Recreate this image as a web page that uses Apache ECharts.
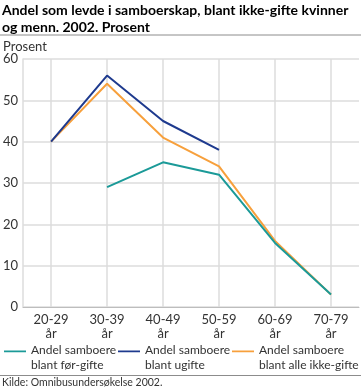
<!DOCTYPE html>
<html><head><meta charset="utf-8">
<script src="https://cdn.jsdelivr.net/npm/echarts@6/dist/echarts.min.js"></script>
<style>html,body{margin:0;padding:0;background:#fff}#c{width:361px;height:390px}</style>
</head><body><div id="c"></div>
<script>
var categories = ['20-29\når', '30-39\når', '40-49\når', '50-59\når', '60-69\når', '70-79\når'];
var forGifte = [null, 29, 35, 32, 15.5, 3];
var ugifte = [40, 56, 45, 38, null, null];
var alleIkkeGifte = [40, 54, 41, 34, 16, 3];
var seriesNames = ['Andel samboere\nblant før-gifte', 'Andel samboere\nblant ugifte', 'Andel samboere\nblant alle ikke-gifte'];
var yTicks = [0, 10, 20, 30, 40, 50, 60];
var colors = ['#1b9a98', '#1e3a8e', '#f7a03c'];
var FONT = 'Lato';
var iconPath = 'path://M0,5.5H25V7.5H0Z M0,0H0.01V0.01H0Z M0,28H0.01V28.01H0Z';

var chart = echarts.init(document.getElementById('c'), null, {renderer: 'canvas'});
function legend(i, left) {
  return {
    data: [seriesNames[i]], left: left, top: 343, orient: 'horizontal',
    itemWidth: 22, itemHeight: 28, icon: iconPath, padding: 0,
    textStyle: {fontFamily: FONT, fontSize: 12, color: '#333', lineHeight: 15}
  };
}
chart.setOption({
  animation: false,
  color: colors,
  title: {
    text: 'Andel som levde i samboerskap, blant ikke-gifte kvinner\nog menn. 2002. Prosent',
    left: 2, top: 2, padding: 0,
    textStyle: {fontFamily: FONT, fontWeight: 'bold', fontSize: 14, lineHeight: 17, color: '#000'}
  },
  legend: [legend(0, 4), legend(1, 118), legend(2, 232)],
  grid: {left: 23, right: 2, top: 59, bottom: 83, containLabel: false},
  xAxis: {
    type: 'category', data: categories, boundaryGap: true,
    axisLine: {lineStyle: {color: '#bdbdbd', width: 1}},
    axisTick: {show: false},
    axisLabel: {fontFamily: FONT, fontSize: 13, color: '#333', lineHeight: 14, margin: 6},
    splitLine: {show: true, alignWithLabel: true, lineStyle: {color: '#dcdcdc', width: 1.5}}
  },
  yAxis: {
    type: 'value', min: yTicks[0], max: yTicks[yTicks.length - 1], interval: 10,
    axisLine: {show: true, lineStyle: {color: '#dcdcdc', width: 1.5}},
    axisTick: {show: false},
    axisLabel: {fontFamily: FONT, fontSize: 13, color: '#333', margin: 5},
    splitLine: {lineStyle: {color: '#dcdcdc', width: 1.5}}
  },
  graphic: [
    {type: 'line', shape: {x1: 0, y1: 35, x2: 361, y2: 35}, style: {stroke: '#8c8c8c', lineWidth: 1}},
    {type: 'text', left: 3, top: 40, style: {text: 'Prosent', font: '13px Lato', fill: '#333'}},
    {type: 'line', shape: {x1: 0, y1: 375.5, x2: 361, y2: 375.5}, style: {stroke: '#8c8c8c', lineWidth: 1}},
    {type: 'text', left: 2, top: 377, style: {text: 'Kilde: Omnibusundersøkelse 2002.', font: '10.5px Lato', fill: '#333'}}
  ],
  series: [
    {name: seriesNames[0], type: 'line', data: forGifte, symbol: 'none', lineStyle: {width: 2}, connectNulls: false},
    {name: seriesNames[1], type: 'line', data: ugifte, symbol: 'none', lineStyle: {width: 2}},
    {name: seriesNames[2], type: 'line', data: alleIkkeGifte, symbol: 'none', lineStyle: {width: 2}, z: 1}
  ]
});
</script></body></html>
